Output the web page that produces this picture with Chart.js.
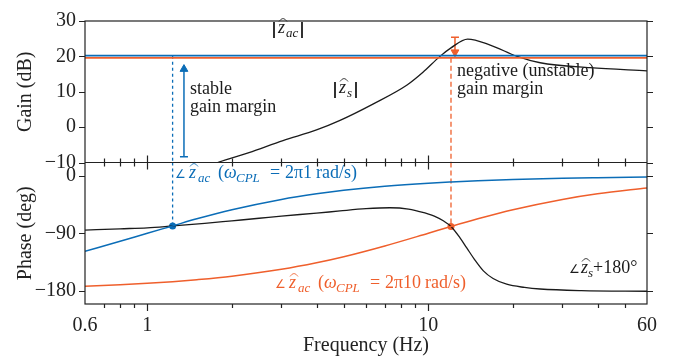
<!DOCTYPE html>
<html>
<head>
<meta charset="utf-8">
<title>Source and CPL impedance</title>
<script src="https://cdn.jsdelivr.net/npm/chart.js@4.4.1/dist/chart.umd.min.js"></script>
<style>
  html, body { margin: 0; padding: 0; background: #fff; }
  #bode { display: block; }
</style>
</head>
<body>
<canvas id="bode" width="680" height="360"></canvas>
<script>
// ---- data ----
const freqLimits = [0.6, 60];
const gainLimits = [-10, 30];
const phaseLimits = [-201, 21];
const gainTicks = [30, 20, 10, 0, -10];
const phaseTicks = [0, -90, -180];
const freqTicks = [0.6, 0.7, 0.8, 0.9, 1, 2, 3, 4, 5, 6, 7, 8, 9, 10, 20, 30, 40, 50, 60];
const freqLabels = [0.6, 1, 10, 60];
const freqMajor = [1, 10];

// |z_ac| for w_CPL = 2pi1 and 2pi10 rad/s (dB)
const zacGain = [20.2, 19.6];

// |z_s| (dB)
const freqZs = [1.78, 2.3, 3.04, 4.0, 4.85, 6.35, 8.4, 9.57, 11, 12.04, 13.8, 16.6, 20.7, 25, 37.6, 60];
const gainZs = [-10, -7.2, -3.8, -0.8, 1.9, 6.5, 11.9, 15.5, 20, 22.4, 24.9, 23.2, 20, 18.2, 16.8, 15.9];

// phase of z_ac (deg)
const freqPhase = [0.6, 0.8, 1, 1.23, 1.5, 2, 3, 4, 5, 7, 10, 12.04, 15, 20, 30, 40, 60];
const phaseZac1 = [-118.1, -102.7, -90, -78.5, -67.4, -53.1, -36.9, -28.1, -22.6, -16.3, -11.4, -9.5, -7.6, -5.7, -3.8, -2.9, -1.9];
const phaseZac10 = [-173.1, -170.9, -168.6, -166, -162.9, -157.4, -146.6, -136.4, -126.9, -110, -90, -79.4, -67.4, -53.1, -36.9, -28.1, -18.9];

// phase of z_s + 180 (deg)
const freqPhaseZs = [0.6, 0.8, 1, 1.23, 1.6, 2, 2.5, 3, 4, 4.85, 6, 7.3, 8.5, 9.1, 10.5, 11.3, 12.04, 13, 13.7, 14.7, 15.7, 17, 19, 22, 25, 35, 60];
const phaseZs = [-85, -83, -81.5, -78.5, -74.5, -70.5, -66.5, -63, -58.5, -55, -51.5, -50, -52, -55, -63, -70.5, -79.4, -98, -113, -133, -149, -161, -170, -175, -177.5, -180, -181];

// phase crossings
const crossFreq = [1.23, 12.04];
const crossPhase = [-78.5, -79.4];

// gain margin arrows (dB)
const marginFreq = [1.35, 12.44];
const stableMargin = [-8.4, 16.4];
const unstableMargin = [25.4, 21.2];

// ---- styles ----
const BLUE = '#0b6db7';
const ORANGE = '#ef5f2c';
const BLACK = '#1b1b1b';
const AXIS = '#222';
const SERIF = '"Liberation Serif", serif';

const pts = (xs, ys) => xs.map((x, i) => ({ x: x, y: ys[i] }));

function line(data, axis, color, extra) {
    return Object.assign({
        data: data,
        yAxisID: axis,
        borderColor: color,
        backgroundColor: color,
        borderWidth: 1.5,
        pointRadius: 0,
        fill: false,
        tension: 0
    }, extra || {});
}

const minus = v => String(v).replace('-', '\u2212');

// draws mixed roman / italic / subscript pieces, each at an offset from x0
function drawRich(ctx, x0, y, runs, color) {
    ctx.save();
    ctx.fillStyle = color;
    ctx.strokeStyle = color;
    ctx.textAlign = 'left';
    ctx.textBaseline = 'alphabetic';
    for (const r of runs) {
        const x = x0 + r.at;
        if (r.bar) {
            ctx.lineWidth = 1.8;
            ctx.beginPath();
            ctx.moveTo(x + 1, y - 11);
            ctx.lineTo(x + 1, y + 5);
            ctx.stroke();
            continue;
        }
        const size = r.sub ? 13 : (r.size || 18);
        ctx.font = (r.it ? 'italic ' : '') + size + 'px ' + SERIF;
        ctx.fillText(r.t, x, y + (r.sub ? 4 : 0));
        if (r.hat) {
            const w = ctx.measureText(r.t).width;
            ctx.lineWidth = 0.8;
            ctx.beginPath();
            ctx.moveTo(x + 1, y - 11.5);
            ctx.quadraticCurveTo(x + w / 2 + 1.5, y - 17.5, x + w + 2, y - 11.5);
            ctx.stroke();
        }
    }
    ctx.restore();
}

const zacPhaseRuns = rate => [
    { at: 0, t: '\u2220', size: 12 }, { at: 14, t: 'z', it: true, hat: true }, { at: 23, t: 'ac', it: true, sub: true },
    { at: 43, t: '(' }, { at: 49, t: '\u03c9', it: true }, { at: 61, t: 'CPL', it: true, sub: true },
    { at: 95, t: '=' }, { at: 110, t: '2\u03c0' + rate }, { at: 141 + 9 * (rate.length - 1), t: 'rad/s)' }
];

// frame, outward ticks and annotations
const bodePlot = {
    id: 'bodePlot',
    afterDatasetsDraw(chart) {
        const ctx = chart.ctx;
        const xs = chart.scales.x, yg = chart.scales.yGain, yp = chart.scales.yPhase;
        const L = xs.left, R = xs.right, T = yg.top, M = yg.bottom, B = yp.bottom;

        ctx.save();
        ctx.strokeStyle = AXIS;
        ctx.lineWidth = 1.2;
        ctx.strokeRect(L, T, R - L, B - T);
        ctx.beginPath();
        ctx.moveTo(L, M);
        ctx.lineTo(R, M);
        ctx.stroke();

        ctx.beginPath();
        xs.ticks.forEach(t => {
            if (t.value <= freqLimits[0] || t.value >= freqLimits[1]) return;
            const px = Math.round(xs.getPixelForValue(t.value)) + 0.5;
            const len = freqMajor.includes(t.value) ? 7 : 4;
            ctx.moveTo(px, M - len);
            ctx.lineTo(px, M + len);
            ctx.moveTo(px, B);
            ctx.lineTo(px, B + len);
        });
        [[yg, gainTicks], [yp, phaseTicks]].forEach(([s, ticks]) => {
            ticks.forEach(v => {
                const py = Math.round(s.getPixelForValue(v)) + 0.5;
                ctx.moveTo(L - 6, py);
                ctx.lineTo(L, py);
                ctx.moveTo(R, py);
                ctx.lineTo(R + 6, py);
            });
        });
        ctx.stroke();
        ctx.restore();

        ctx.save();
        ctx.fillStyle = BLACK;
        ctx.font = '18px ' + SERIF;
        ctx.textAlign = 'left';
        ctx.fillText('stable', 190, 94);
        ctx.fillText('gain margin', 190, 112);
        ctx.fillText('negative (unstable)', 457, 76);
        ctx.fillText('gain margin', 457, 94);
        ctx.restore();

        drawRich(ctx, 273, 33, [
            { at: 0, bar: true }, { at: 5, t: 'z', it: true, hat: true }, { at: 13, t: 'ac', it: true, sub: true }, { at: 28, bar: true }
        ], BLACK);
        drawRich(ctx, 334, 93, [
            { at: 0, bar: true }, { at: 5, t: 'z', it: true, hat: true }, { at: 13, t: 's', it: true, sub: true }, { at: 21, bar: true }
        ], BLACK);
        drawRich(ctx, 175, 178, zacPhaseRuns('1'), BLUE);
        drawRich(ctx, 275, 288, zacPhaseRuns('10'), ORANGE);
        drawRich(ctx, 569, 273, [
            { at: 0, t: '\u2220', size: 12 }, { at: 12, t: 'z', it: true, hat: true }, { at: 19, t: 's', it: true, sub: true }, { at: 24, t: '+180\u00b0' }
        ], BLACK);
    }
};

const datasets = [
    line(pts(freqLimits, [zacGain[0], zacGain[0]]), 'yGain', BLUE, { borderWidth: 1.8 }),
    line(pts(freqLimits, [zacGain[1], zacGain[1]]), 'yGain', ORANGE, { borderWidth: 1.8 }),
    line(pts(freqZs, gainZs), 'yGain', BLACK, { cubicInterpolationMode: 'monotone', borderWidth: 1.3 }),
    line(pts(freqPhase, phaseZac1), 'yPhase', BLUE, { cubicInterpolationMode: 'monotone' }),
    line(pts(freqPhase, phaseZac10), 'yPhase', ORANGE, { cubicInterpolationMode: 'monotone' }),
    line(pts(freqPhaseZs, phaseZs), 'yPhase', BLACK, { cubicInterpolationMode: 'monotone', borderWidth: 1.3 }),
    // vertical guides at the phase crossings
    line(pts([crossFreq[0], crossFreq[0]], [zacGain[0], gainLimits[0]]), 'yGain', BLUE, { borderDash: [3, 3], borderWidth: 1.3 }),
    line(pts([crossFreq[0], crossFreq[0]], [phaseLimits[1], crossPhase[0]]), 'yPhase', BLUE, { borderDash: [3, 3], borderWidth: 1.3 }),
    line(pts([crossFreq[1], crossFreq[1]], [zacGain[1], gainLimits[0]]), 'yGain', ORANGE, { borderDash: [5, 3], borderWidth: 1.3 }),
    line(pts([crossFreq[1], crossFreq[1]], [phaseLimits[1], crossPhase[1]]), 'yPhase', ORANGE, { borderDash: [5, 3], borderWidth: 1.3 }),
    // crossing markers
    line(pts(crossFreq, crossPhase), 'yPhase', BLUE, {
        showLine: false, pointRadius: 3.5, pointBorderWidth: 0,
        pointBackgroundColor: [BLUE, ORANGE], pointBorderColor: [BLUE, ORANGE]
    }),
    // gain margin arrows
    line(pts([marginFreq[0], marginFreq[0]], stableMargin), 'yGain', BLUE, {
        pointStyle: ['line', 'triangle'], pointRadius: [4, 4.5], rotation: [0, 0],
        pointBorderWidth: [1.5, 1], pointBackgroundColor: BLUE, pointBorderColor: BLUE
    }),
    line(pts([marginFreq[1], marginFreq[1]], unstableMargin), 'yGain', ORANGE, {
        pointStyle: ['line', 'triangle'], pointRadius: [4, 4.5], rotation: [0, 180],
        pointBorderWidth: [1.5, 1], pointBackgroundColor: ORANGE, pointBorderColor: ORANGE
    })
];

const tickFont = { family: SERIF, size: 20 };
const titleFont = { family: SERIF, size: 20 };
const noGrid = { display: false, drawTicks: false };

new Chart(document.getElementById('bode'), {
    type: 'line',
    data: { datasets: datasets },
    options: {
        responsive: false,
        animation: false,
        devicePixelRatio: 1,
        layout: { padding: { top: 8, right: 33, bottom: 0, left: 0 } },
        plugins: { legend: { display: false }, tooltip: { enabled: false } },
        scales: {
            x: {
                type: 'logarithmic',
                position: 'bottom',
                min: freqLimits[0],
                max: freqLimits[1],
                grid: noGrid,
                border: { display: false },
                afterBuildTicks: s => { s.ticks = freqTicks.map(v => ({ value: v })); },
                afterFit: s => { s.height = 56; },
                ticks: {
                    autoSkip: false,
                    maxRotation: 0,
                    padding: 10,
                    color: AXIS,
                    font: tickFont,
                    callback: v => freqLabels.includes(v) ? String(v) : ''
                },
                title: { display: true, text: 'Frequency (Hz)', color: AXIS, font: titleFont, padding: { top: 0, bottom: 2 } }
            },
            yPhase: {
                type: 'linear',
                position: 'left',
                stack: 'bode',
                stackWeight: 1,
                min: phaseLimits[0],
                max: phaseLimits[1],
                grid: noGrid,
                border: { display: false },
                afterBuildTicks: s => { s.ticks = phaseTicks.map(v => ({ value: v })); },
                afterFit: s => { s.width = 85; },
                ticks: { autoSkip: false, padding: 9, color: AXIS, font: tickFont, callback: minus },
                title: { display: true, text: 'Phase (deg)', color: AXIS, font: titleFont, padding: { top: 14, bottom: 0 } }
            },
            yGain: {
                type: 'linear',
                position: 'left',
                stack: 'bode',
                stackWeight: 1,
                min: gainLimits[0],
                max: gainLimits[1],
                grid: noGrid,
                border: { display: false },
                afterBuildTicks: s => { s.ticks = gainTicks.map(v => ({ value: v })); },
                afterFit: s => { s.width = 85; },
                ticks: { autoSkip: false, padding: 9, color: AXIS, font: tickFont, callback: minus },
                title: { display: true, text: 'Gain (dB)', color: AXIS, font: titleFont, padding: { top: 14, bottom: 0 } }
            }
        }
    },
    plugins: [bodePlot]
});
</script>
</body>
</html>
